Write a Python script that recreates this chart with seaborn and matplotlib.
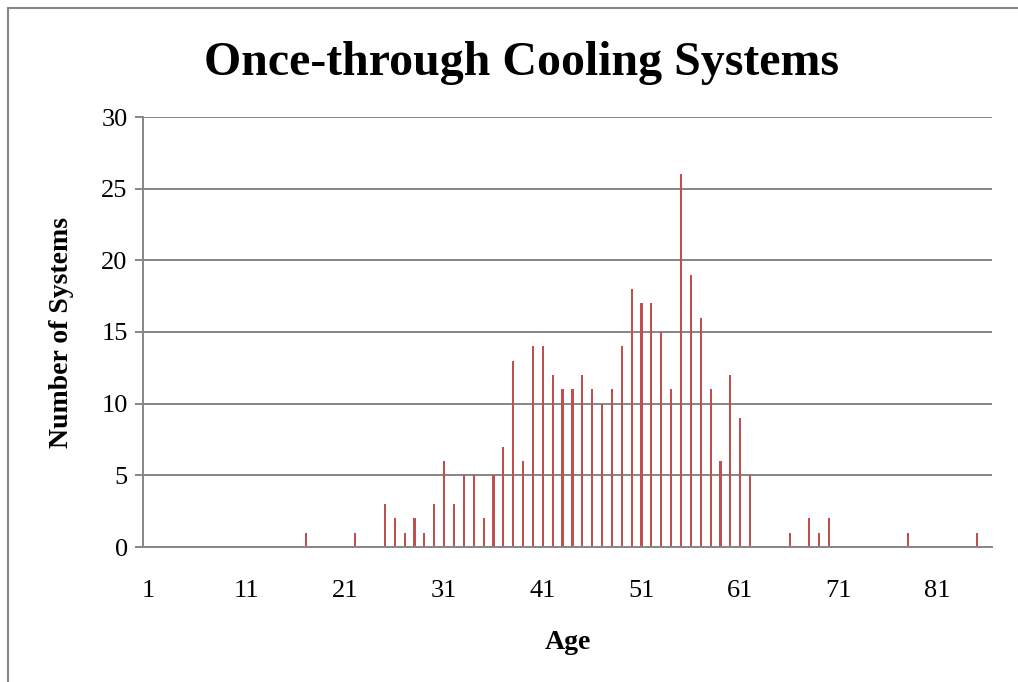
import numpy as np
import pandas as pd
import seaborn as sns
import matplotlib.pyplot as plt
from matplotlib.lines import Line2D

# ages with at least one system, and how many systems
ages = [17, 22, 25, 26, 27, 28, 29, 30, 31, 32, 33, 34, 35, 36, 37, 38, 39,
        40, 41, 42, 43, 44, 45, 46, 47, 48, 49, 50, 51, 52, 53, 54, 55, 56,
        57, 58, 59, 60, 61, 62, 66, 68, 69, 70, 78, 85]
counts = [1, 1, 3, 2, 1, 2, 1, 3, 6, 3, 5, 5, 2, 5, 7, 13, 6,
          14, 14, 12, 11, 11, 12, 11, 10, 11, 14, 18, 17, 17, 15, 11, 26, 19,
          16, 11, 6, 12, 9, 5, 1, 2, 1, 2, 1, 1]
all_ages = list(range(1, 87))
x_ticks = [1, 11, 21, 31, 41, 51, 61, 71, 81]
y_ticks = [0, 5, 10, 15, 20, 25, 30]

lookup = dict(zip(ages, counts))
df = pd.DataFrame({"Age": all_ages,
                   "Systems": [lookup.get(a, 0) for a in all_ages]})

sns.set_style("white")
plt.rcParams["font.family"] = ["Liberation Serif", "DejaVu Serif"]
plt.rcParams["text.color"] = "black"
plt.rcParams["axes.labelcolor"] = "black"

grid_c = "#868686"
fig = plt.figure(figsize=(10.18, 6.82), dpi=100)
ax = fig.add_axes([143 / 1018, 135 / 682, 849 / 1018, 430 / 682])

sns.barplot(data=df, x="Age", y="Systems", order=all_ages, color="#C0504D",
            saturation=1, width=0.22, linewidth=0, ax=ax)

ax.set_xlim(-0.5, len(all_ages) - 0.5)
ax.set_ylim(0, 30)
ax.set_yticks(y_ticks)
ax.set_xticks([all_ages.index(t) for t in x_ticks])
ax.set_xticklabels([str(t) for t in x_ticks])
ax.yaxis.grid(True, color=grid_c, linewidth=1.4)
ax.set_axisbelow(True)
for s in ["top", "right"]:
    ax.spines[s].set_visible(False)
for s in ["left", "bottom"]:
    ax.spines[s].set_color(grid_c)
    ax.spines[s].set_linewidth(1.4)
ax.tick_params(axis="y", length=6, width=1.4, color=grid_c, pad=5,
               labelsize=19, left=True, labelcolor="black")
ax.tick_params(axis="x", length=0, pad=24, labelsize=19, labelcolor="black")

ax.set_xlabel("Age", fontsize=20, fontweight="bold", labelpad=20)
ax.set_ylabel("Number of Systems", fontsize=20, fontweight="bold", labelpad=20)
fig.suptitle("Once-through Cooling Systems", fontsize=34.5, fontweight="bold",
             x=0.512, y=0.94)

# outer chart border
fig.add_artist(Line2D([8 / 1018, 8 / 1018], [0, 1 - 8 / 682], color=grid_c,
                      linewidth=1.5, transform=fig.transFigure))
fig.add_artist(Line2D([8 / 1018, 1], [1 - 8 / 682, 1 - 8 / 682], color=grid_c,
                      linewidth=1.5, transform=fig.transFigure))

fig.savefig("out.png", dpi=100)
